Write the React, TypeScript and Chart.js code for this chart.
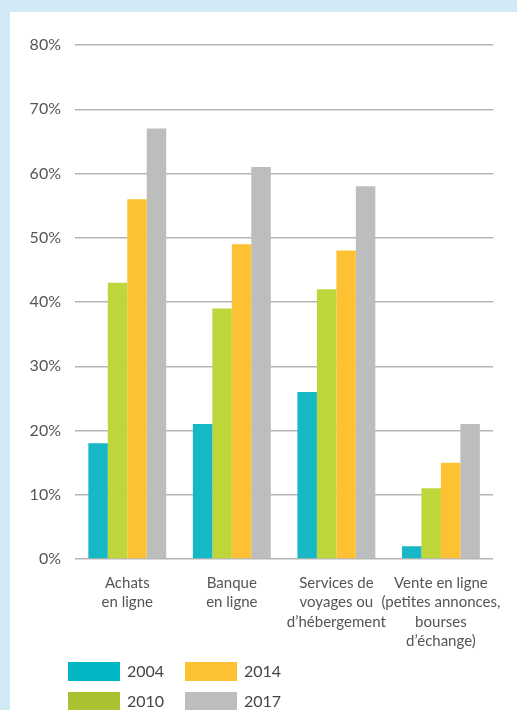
import React, { useEffect, useRef } from "react";
import { Chart, registerables } from "chart.js";

Chart.register(...registerables);

const categories: string[][] = [
  ["Achats", "en ligne"],
  ["Banque", "en ligne"],
  ["Services de", "voyages ou", "d’hébergement"],
  ["Vente en ligne", "(petites annonces,", "bourses", "d’échange)"],
];
const seriesNames = ["2004", "2010", "2014", "2017"];
const values2004 = [18, 21, 26, 2];
const values2010 = [43, 39, 42, 11];
const values2014 = [56, 49, 48, 15];
const values2017 = [67, 61, 58, 21];
const seriesColors = ["#17b8c6", "#bfd63a", "#fdc134", "#bcbdbd"];
const legendColors = ["#00b5c4", "#aac22f", "#fdc134", "#bcbdbd"];
const yTicks = [0, 10, 20, 30, 40, 50, 60, 70, 80];

const FONT = "Lato, 'Open Sans', sans-serif";

const legendPlugin = {
  id: "gridLegend",
  afterDraw(chart: any) {
    const ctx = chart.ctx;
    ctx.save();
    chart.data.datasets.forEach((ds: any, i: number) => {
      const col = Math.floor(i / 2);
      const row = i % 2;
      const x = 68 + col * 117;
      const y = 662 + row * 30;
      ctx.fillStyle = legendColors[i];
      ctx.fillRect(x, y, 52, 19);
      ctx.fillStyle = "#444";
      ctx.font = `16px ${FONT}`;
      ctx.textBaseline = "middle";
      ctx.textAlign = "left";
      ctx.fillText(ds.label, x + 59, y + 10);
    });
    ctx.restore();
  },
};

export default function App() {
  const ref = useRef<HTMLCanvasElement>(null);
  useEffect(() => {
    document.body.style.margin = "0";
    const allValues = [values2004, values2010, values2014, values2017];
    const chart = new Chart(ref.current!, {
      type: "bar",
      data: {
        labels: categories,
        datasets: seriesNames.map((name, i) => ({
          label: name,
          data: allValues[i],
          backgroundColor: seriesColors[i],
          borderWidth: 0,
          categoryPercentage: 0.745,
          barPercentage: 1,
        })),
      },
      options: {
        animation: false,
        responsive: false,
        devicePixelRatio: 1,
        layout: { padding: { top: 45, right: 21, left: 0, bottom: 0 } },
        plugins: { legend: { display: false }, tooltip: { enabled: false } },
        scales: {
          x: {
            grid: { display: false, drawTicks: false },
            border: { display: false },
            ticks: {
              color: "#555",
              font: { family: FONT, size: 15, lineHeight: 1.3 },
              padding: 14,
              maxRotation: 0,
              autoSkip: false,
            },
            afterFit: (scale: any) => {
              scale.height = 151;
            },
          },
          y: {
            min: 0,
            max: 80,
            afterBuildTicks: (scale: any) => {
              scale.ticks = yTicks.map((v) => ({ value: v }));
            },
            grid: { color: "#b5b5b5", lineWidth: 1.5, drawTicks: false },
            border: { display: false },
            ticks: {
              color: "#555",
              font: { family: FONT, size: 16 },
              padding: 14,
              callback: (v: any) => `${v}%`,
            },
            afterFit: (scale: any) => {
              scale.width = 75;
            },
          },
        },
      },
      plugins: [legendPlugin],
    });
    return () => chart.destroy();
  }, []);

  return (
    <div
      style={{
        position: "fixed",
        left: 0,
        top: 0,
        width: 517,
        height: 710,
        background: "#d2e9f6",
        overflow: "hidden",
      }}
    >
      <div
        style={{
          position: "absolute",
          left: 10,
          top: 12,
          right: 0,
          bottom: 0,
          background: "#ffffff",
        }}
      />
      <canvas
        ref={ref}
        width={517}
        height={710}
        style={{ position: "absolute", left: 0, top: 0, width: 517, height: 710 }}
      />
    </div>
  );
}
